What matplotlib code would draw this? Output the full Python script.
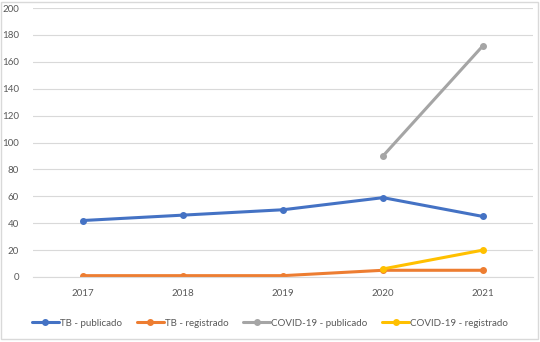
import numpy as np
import matplotlib
matplotlib.use("Agg")
import matplotlib.pyplot as plt
from matplotlib.patches import Rectangle

plt.rcParams["font.family"] = ["Lato", "DejaVu Sans"]

years = ["2017", "2018", "2019", "2020", "2021"]
tb_publicado = [42, 46, 50, 59, 45]
tb_registrado = [1, 1, 1, 5, 5]
covid_publicado = [np.nan, np.nan, np.nan, 90, 172]
covid_registrado = [np.nan, np.nan, np.nan, 6, 20]

series = [
    ("TB - publicado", tb_publicado, "#4472C4"),
    ("TB - registrado", tb_registrado, "#ED7D31"),
    ("COVID-19 - publicado", covid_publicado, "#A5A5A5"),
    ("COVID-19 - registrado", covid_registrado, "#FFC000"),
]

fig = plt.figure(figsize=(5.4, 3.42), dpi=100)
ax = fig.add_axes([33 / 540, 1 - 277 / 342, 500 / 540, 269 / 342])

x = np.arange(len(years))
for label, vals, color in series:
    ax.plot(x, vals, color=color, lw=2.2, marker="o", markersize=4,
            label=label, solid_capstyle="round")

ax.set_xlim(-0.5, len(years) - 0.5)
ax.set_ylim(0, 200)
ax.set_yticks(range(0, 201, 20))
ax.set_xticks(x)
ax.set_xticklabels(years)
ax.grid(axis="y", color="#D9D9D9", lw=0.8)
ax.set_axisbelow(True)
for s in ["top", "right", "left"]:
    ax.spines[s].set_visible(False)
ax.spines["bottom"].set_color("#D9D9D9")
ax.tick_params(length=0, labelsize=7, labelcolor="#595959")
ax.tick_params(axis="x", pad=9)
ax.tick_params(axis="y", pad=10)

fig.legend(loc="center", bbox_to_anchor=(0.5, 1 - 323 / 342), ncol=4,
           frameon=False, fontsize=7, labelcolor="#595959",
           handlelength=2.8, handletextpad=0.1, columnspacing=1.5)

fig.patches.append(Rectangle((0.002, 0.01), 0.994, 0.985, transform=fig.transFigure,
                             fill=False, edgecolor="#D9D9D9", lw=1))

fig.savefig("out.png", dpi=100)
